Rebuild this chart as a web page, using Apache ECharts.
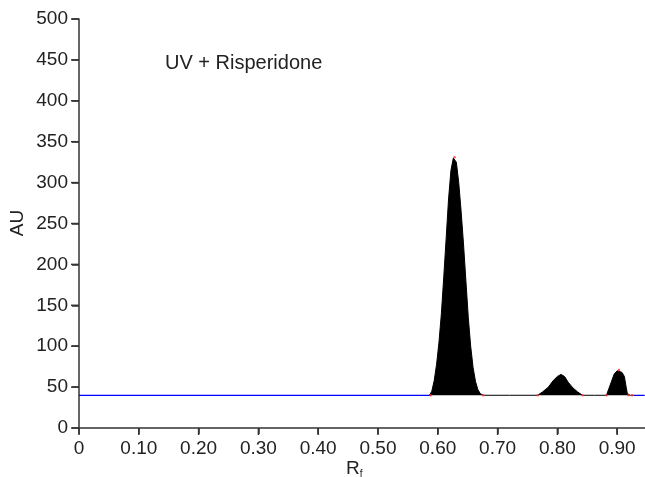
<!DOCTYPE html>
<html>
<head>
<meta charset="utf-8">
<script src="https://cdn.jsdelivr.net/npm/echarts@6/dist/echarts.min.js"></script>
<style>
html,body{margin:0;padding:0;background:#fff;}
#c{width:645px;height:477px;}
</style>
</head>
<body>
<div id="c"></div>
<script>
// Data
var titleText = 'UV + Risperidone';
var yTicks = [0, 50, 100, 150, 200, 250, 300, 350, 400, 450, 500];
var xTicks = [0, 0.1, 0.2, 0.3, 0.4, 0.5, 0.6, 0.7, 0.8, 0.9];
var xTickLabels = ['0', '0.10', '0.20', '0.30', '0.40', '0.50', '0.60', '0.70', '0.80', '0.90'];
var baselineValue = 40;
var blueLeft = [[0, 40], [0.588, 40]];
var blueRight = [[0.927, 40], [0.946, 40]];
var peak1 = [[0.586,40],[0.590,45],[0.594,58],[0.598,78],[0.602,105],[0.606,140],[0.610,185],[0.614,232],[0.618,280],[0.622,315],[0.626,330],[0.628,331],[0.631,325],[0.635,300],[0.639,265],[0.643,225],[0.647,180],[0.651,135],[0.655,100],[0.659,74],[0.663,57],[0.667,47],[0.671,42],[0.676,40]];
var flat1 = [[0.720,40]];
var peak2 = [[0.767,40],[0.775,44],[0.785,50],[0.793,58],[0.800,63],[0.806,65.5],[0.812,63],[0.818,56],[0.826,49],[0.834,44],[0.842,40]];
var flat2 = [[0.862,40]];
var peak3 = [[0.882,40],[0.886,48],[0.890,56],[0.895,66],[0.900,70],[0.903,71],[0.908,68],[0.912,63],[0.915,50],[0.917,42],[0.919,40],[0.922,40],[0.923,42],[0.925,40],[0.927,40]];
var redMarks = [[0.588,40],[0.628,331],[0.676,40],[0.767,40],[0.842,40],[0.882,40],[0.903,71],[0.919,40],[0.925,40]];

var trace = [].concat(peak1, flat1, peak2, flat2, peak3);

var chart = echarts.init(document.getElementById('c'), null, {renderer: 'canvas'});
var font = 'Liberation Sans, Arial, Helvetica, sans-serif';
var axisColor = '#333';
chart.setOption({
  animation: false,
  backgroundColor: '#fff',
  grid: {left: 79, top: 19, right: 0, bottom: 49, containLabel: false},
  xAxis: {
    type: 'value', min: 0, max: 0.9465, interval: 0.1,
    axisLine: {show: true, onZero: false, lineStyle: {color: axisColor, width: 1.5}},
    axisTick: {show: true, length: 6, inside: false, lineStyle: {color: axisColor, width: 1.5}},
    axisLabel: {
      margin: 11, color: '#222', fontSize: 19, fontFamily: font, showMaxLabel: false,
      formatter: function (v) { var i = xTicks.findIndex(function(t){return Math.abs(t - v) < 1e-6;}); return i >= 0 ? xTickLabels[i] : ''; }
    },
    splitLine: {show: false}
  },
  yAxis: {
    type: 'value', min: yTicks[0], max: yTicks[yTicks.length - 1], interval: 50,
    axisLine: {show: true, lineStyle: {color: axisColor, width: 1.5}},
    axisTick: {show: true, length: 7, inside: false, lineStyle: {color: axisColor, width: 1.5}},
    axisLabel: {margin: 11, color: '#222', fontSize: 19, fontFamily: font},
    splitLine: {show: false}
  },
  series: [
    {type: 'line', data: blueLeft, symbol: 'none', lineStyle: {color: '#0000ff', width: 1.2}, z: 3},
    {type: 'line', data: blueRight, symbol: 'none', lineStyle: {color: '#0000ff', width: 1.2}, z: 3},
    {type: 'line', data: trace, symbol: 'none', lineStyle: {color: '#000', width: 1}, areaStyle: {color: '#000', opacity: 1, origin: baselineValue}, z: 4},
    {type: 'scatter', data: redMarks, symbolSize: 2.5, itemStyle: {color: '#ff3030'}, z: 5}
  ]
});

// Tick marks placed through the chart's own scales
var g = [
  {type: 'text', left: 165, top: 53, style: {text: titleText, fontSize: 20, fontFamily: font, fill: '#222'}},
  {type: 'text', x: 18, y: 223, rotation: Math.PI / 2, style: {text: 'AU', fontSize: 19, fontFamily: font, fill: '#222', align: 'center', verticalAlign: 'middle'}},
  {type: 'text', left: 346, top: 459, style: {
    rich: {a: {fontSize: 19, fontFamily: font, fill: '#222'}, b: {fontSize: 10, fontFamily: font, fill: '#222', padding: [11, 0, 0, 0]}},
    text: '{a|R}{b|f}'
  }}
];
var origin = chart.convertToPixel({gridIndex: 0}, [0, 0]);
yTicks.forEach(function (t) {
  var p = chart.convertToPixel({gridIndex: 0}, [0, t]);
  g.push({type: 'line', shape: {x1: origin[0] - 8, y1: p[1], x2: origin[0], y2: p[1]}, style: {stroke: axisColor, lineWidth: 1.5}, z: 10});
});
xTicks.forEach(function (t) {
  var p = chart.convertToPixel({gridIndex: 0}, [t, 0]);
  g.push({type: 'line', shape: {x1: p[0], y1: origin[1], x2: p[0], y2: origin[1] + 7}, style: {stroke: axisColor, lineWidth: 1.5}, z: 10});
});
chart.setOption({graphic: g});
</script>
</body>
</html>
